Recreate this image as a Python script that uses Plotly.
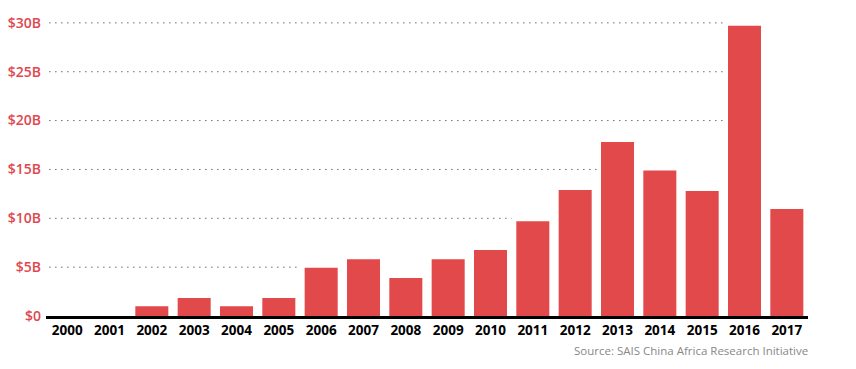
import plotly.graph_objects as go

years = [str(y) for y in range(2000, 2018)]
loans_billion = [0, 0, 1.0, 1.85, 1.0, 1.85, 4.95, 5.8, 3.9, 5.8, 6.75, 9.7,
                 12.9, 17.8, 14.9, 12.8, 29.7, 10.95]
tick_values = [0, 5, 10, 15, 20, 25, 30]
tick_labels = ["$0", "$5B", "$10B", "$15B", "$20B", "$25B", "$30B"]
source_text = "Source: SAIS China Africa Research Initiative"

BAR = "#E2494B"
LABEL_RED = "#E0474E"

fig = go.Figure(go.Bar(x=years, y=loans_billion, marker_color=BAR,
                       marker_line_width=0, hoverinfo="skip"))

# dotted gridlines that stop at the first bar reaching them
shapes = []
for t in tick_values[1:]:
    idx = next((i for i, v in enumerate(loans_billion) if v >= t - 0.5), len(years))
    shapes.append(dict(type="line", xref="x", yref="y",
                       x0=-0.42, x1=idx - 0.5, y0=t, y1=t,
                       line=dict(color="#222", width=1, dash="1px,5px"),
                       layer="below"))

fig.update_layout(
    width=856, height=369,
    margin=dict(l=38, r=56, t=10, b=61),
    paper_bgcolor="white", plot_bgcolor="white",
    showlegend=False, bargap=0.22,
    font=dict(family="Open Sans", size=13, color="black"),
    shapes=shapes,
    xaxis=dict(type="category", showgrid=False, showline=True, linecolor="black",
               linewidth=3, ticks="", zeroline=False, automargin=False,
               tickfont=dict(family="Open Sans", size=13.5, color="black", weight=700),
               range=[-0.5, len(years) - 0.5]),
    yaxis=dict(range=[0, 30.5], tickvals=tick_values, ticktext=tick_labels,
               showgrid=False, zeroline=False, showline=False, ticks="", automargin=False,
               tickfont=dict(family="Open Sans", size=14, color=LABEL_RED, weight=600),
               ticklabelstandoff=4),
    annotations=[dict(text=source_text, xref="paper", yref="paper", x=1.002, y=-0.117,
                      xanchor="right", yanchor="middle", showarrow=False,
                      font=dict(family="Open Sans", size=11.5, color="#888"))],
)

fig.write_html("out.html")
